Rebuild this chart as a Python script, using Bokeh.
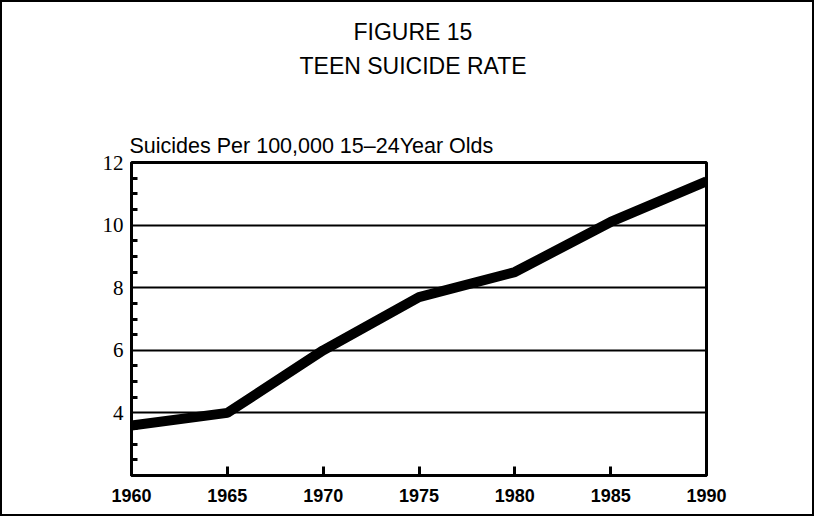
from bokeh.plotting import figure
from bokeh.models import Range1d, FixedTicker, Title
from bokeh.embed import file_html
from bokeh.resources import INLINE

years = [1960, 1965, 1970, 1975, 1980, 1985, 1990]
rates = [3.6, 4.0, 6.0, 7.7, 8.5, 10.1, 11.4]
y_major = [4, 6, 8, 10, 12]
y_minor = [2.5, 3, 3.5, 4.5, 5, 5.5, 6.5, 7, 7.5, 8.5, 9, 9.5, 10.5, 11, 11.5]
grid_vals = [4, 6, 8, 10]
x_ticks = [1960, 1965, 1970, 1975, 1980, 1985, 1990]
title1 = "FIGURE 15"
title2 = "TEEN SUICIDE RATE"
y_title = "Suicides Per 100,000 15\u201324Year Olds"

W, H = 814, 516
FL, FR, FT, FB = 129, 704, 160, 473  # frame edges in canvas px

p = figure(width=W, height=H, output_backend="svg", toolbar_location=None,
           x_range=Range1d(1960, 1990), y_range=Range1d(2, 12),
           min_border_left=FL, min_border_right=W - FR,
           min_border_top=FT, min_border_bottom=H - FB)
p.styles = {"border": "2px solid black"}
p.background_fill_color = "white"
p.border_fill_color = "white"
p.outline_line_color = "black"
p.outline_line_width = 3

p.line(years, rates, line_width=10, line_color="black")

# grid
p.xgrid.visible = False
p.ygrid.ticker = FixedTicker(ticks=grid_vals)
p.ygrid.grid_line_color = "black"
p.ygrid.grid_line_width = 2
p.ygrid.grid_line_alpha = 1

# y axis
ya = p.yaxis[0]
ya.ticker = FixedTicker(ticks=y_major, minor_ticks=y_minor)
ya.axis_line_width = 3
ya.axis_line_color = "black"
ya.major_tick_in = 0
ya.major_tick_out = 0
ya.minor_tick_in = 6
ya.minor_tick_out = 0
ya.minor_tick_line_width = 3
ya.minor_tick_line_color = "black"
ya.major_label_text_font = "Liberation Serif"
ya.major_label_text_font_size = "21px"
ya.major_label_text_color = "black"
ya.major_label_standoff = 8

# x axis
xa = p.xaxis[0]
xa.ticker = FixedTicker(ticks=x_ticks)
xa.axis_line_width = 3
xa.axis_line_color = "black"
xa.major_tick_in = 9
xa.major_tick_out = 0
xa.major_tick_line_width = 3
xa.major_tick_line_color = "black"
xa.minor_tick_line_color = None
xa.major_label_text_font = "Liberation Sans"
xa.major_label_text_font_size = "18px"
xa.major_label_text_font_style = "bold"
xa.major_label_text_color = "black"
xa.major_label_standoff = 13

# titles, stacked above the frame (first added is closest to the frame)
p.add_layout(Title(text=y_title, align="left", offset=-2, standoff=10,
                   text_font="Liberation Sans", text_font_size="21.5px",
                   text_font_style="normal", text_color="black"), "above")
p.add_layout(Title(text=" ", align="left", standoff=41,
                   text_font="Liberation Sans", text_font_size="1px"), "above")
p.add_layout(Title(text=title2, align="left", offset=168, standoff=8,
                   text_font="Liberation Sans", text_font_size="23px",
                   text_font_style="normal", text_color="black"), "above")
p.add_layout(Title(text=title1, align="left", offset=222, standoff=4,
                   text_font="Liberation Sans", text_font_size="23px",
                   text_font_style="normal", text_color="black"), "above")

open("out.html", "w").write(file_html(p, INLINE))
